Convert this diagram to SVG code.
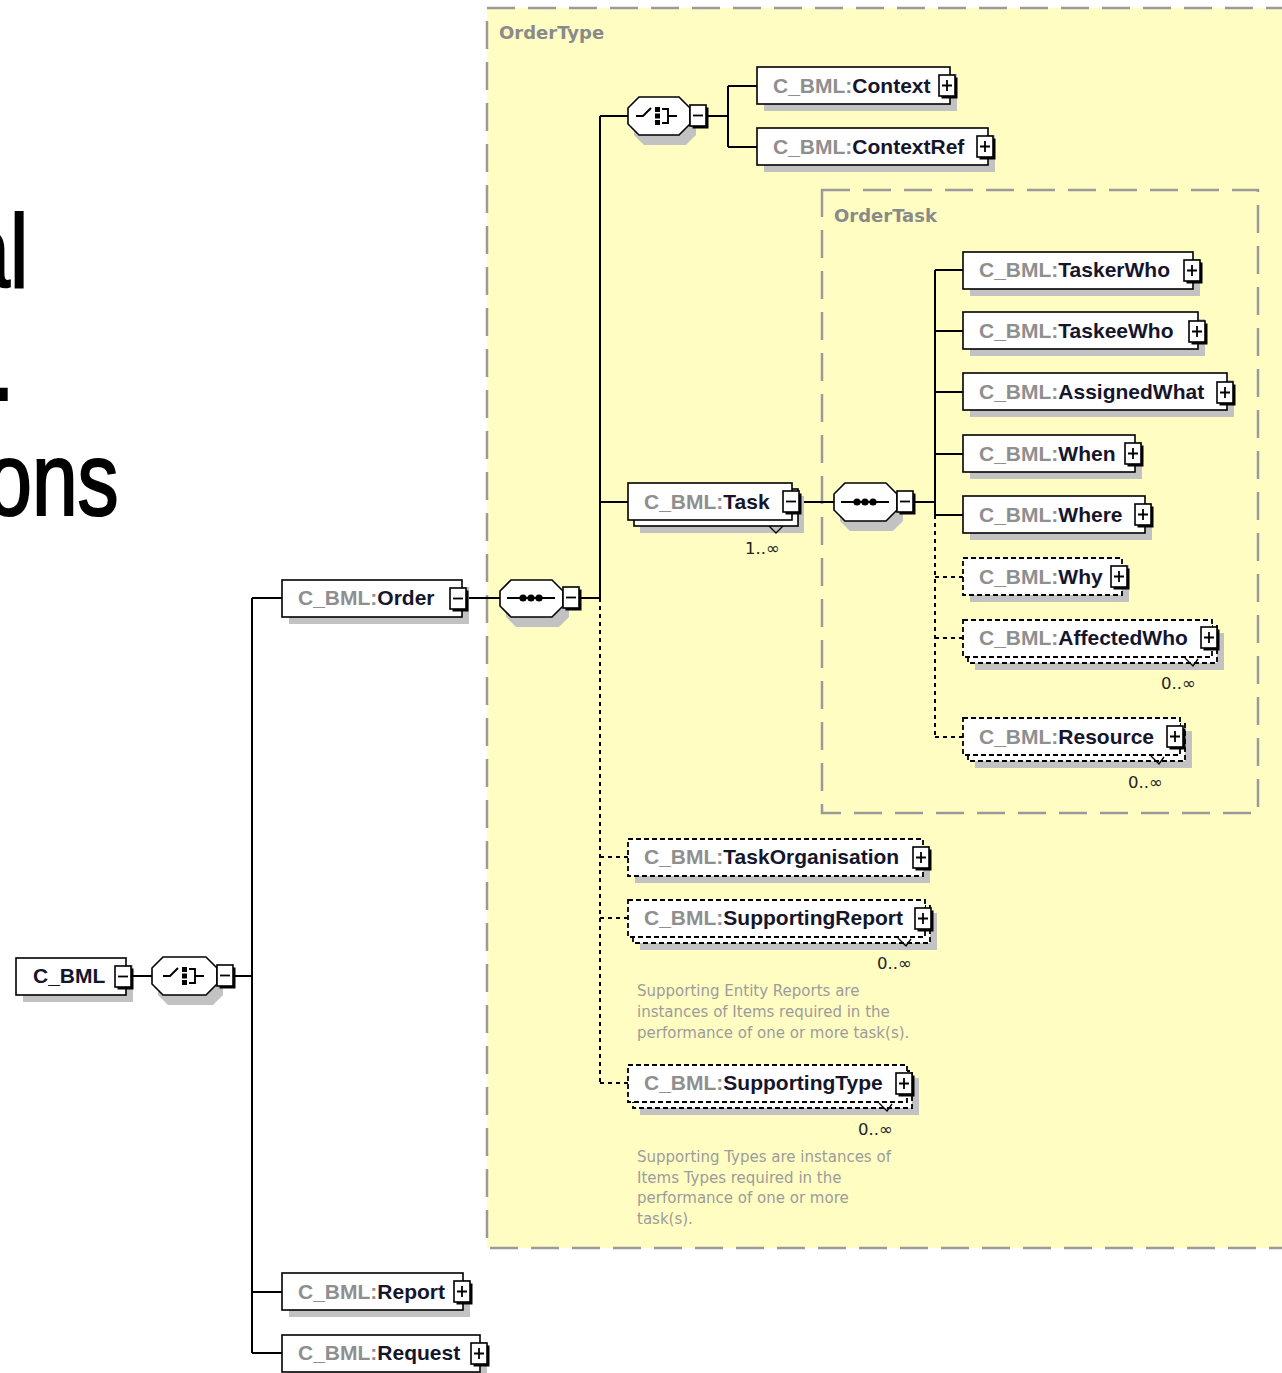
<svg xmlns="http://www.w3.org/2000/svg" xmlns:xlink="http://www.w3.org/1999/xlink" width="1282" height="1373" viewBox="0 0 1282 1373">
<style>
.big{font-family:"Liberation Sans",Arial,sans-serif;font-size:104px;fill:#000;stroke:#000;stroke-width:2.2}
.frame{fill:#fffdc2;stroke:#9a9a9a;stroke-width:2.5;stroke-dasharray:28 13}
.ttl{font-family:"DejaVu Sans",Verdana,sans-serif;font-weight:bold;font-size:18px;fill:#8a8a8a}
.sh{fill:#c2c2c2}
.nb{fill:#fff;stroke:#000;stroke-width:1.6}
.nd{fill:#fff;stroke:#000;stroke-width:1.8;stroke-dasharray:5 3}
.lb{font-family:"Liberation Sans",Arial,sans-serif;font-weight:bold;font-size:21px;fill:#15152b}
.pf{fill:#8f8f8f}
.ln{fill:none;stroke:#000;stroke-width:2}
.dl{fill:none;stroke:#000;stroke-width:2;stroke-dasharray:4 4}
.oct{fill:#fff;stroke:#000;stroke-width:1.6}
.mul{font-family:"DejaVu Sans",Verdana,sans-serif;font-size:16.5px;fill:#222}
.ann{font-family:"DejaVu Sans",Verdana,sans-serif;font-size:15px;fill:#9c9c9c}
.tk{fill:none;stroke:#000;stroke-width:1.3}
</style>
<defs>
<g id="bp"><rect x="2.5" y="2.5" width="16" height="21" fill="#000"/><rect width="16" height="21" fill="#fff" stroke="#000" stroke-width="1.6"/><path d="M3 10.5H13M8 5V16" stroke="#000" stroke-width="1.8"/></g>
<g id="bm"><rect x="2.5" y="2.5" width="16" height="21" fill="#000"/><rect width="16" height="21" fill="#fff" stroke="#000" stroke-width="1.6"/><path d="M3 10.5H13" stroke="#000" stroke-width="1.8"/></g>
<g id="seqi"><path d="M-24 0H24" stroke="#000" stroke-width="1.8"/><circle cx="-8" cy="0" r="3.6"/><circle cx="0" cy="0" r="3.6"/><circle cx="8" cy="0" r="3.6"/></g>
<g id="chi"><path d="M-22 0H-15L-7 -8M4 -7H10V7H4M10 0H19" fill="none" stroke="#000" stroke-width="1.9"/><rect x="-3" y="-9" width="5" height="5"/><rect x="-3" y="-2.5" width="5" height="5"/><rect x="-3" y="4" width="5" height="5"/></g>
</defs>

<rect width="1282" height="1373" fill="#fff"/>

<g id="bigtext">
<text class="big" transform="translate(-35.8 287) scale(0.79 1)">al</text>
<text class="big" transform="translate(-8.4 400) scale(0.79 1)">.</text>
<text class="big" transform="translate(-13.8 515) scale(0.79 1)">ons</text>
</g>

<g id="OrderType">
<rect class="frame" x="487" y="8" width="810" height="1240"/>
<text class="ttl" x="499" y="39">OrderType</text>
</g>
<g id="OrderTask">
<rect class="frame" x="822" y="190" width="436" height="623"/>
<text class="ttl" x="834" y="222">OrderTask</text>
</g>

<g id="connectors">
<path class="ln" d="M132 976H152M235 976H252M252 598V1353M252 598H282M252 1292H282M252 1353H282"/>
<path class="ln" d="M468 598H500M581 598H600M600 116V598M600 116H628M600 502H628"/>
<path class="dl" d="M600 598V1083M600 857H628M600 918H628M600 1083H628"/>
<path class="ln" d="M708 116H728M728 86V147M728 86H757M728 147H757"/>
<path class="ln" d="M800 502H834M915 502H935M935 270V515"/>
<path class="ln" d="M935 270H963M935 331H963M935 392H963M935 454H963M935 515H963"/>
<path class="dl" d="M935 515V737M935 577H963M935 638H963M935 737H963"/>
</g>

<g id="comp-root">
<polygon class="sh" points="168,967 213,967 223,977 223,995 213,1005 168,1005 158,995 158,977"/>
<polygon class="oct" points="163,957 206,957 217,968 217,984 206,995 163,995 152,984 152,968"/>
<use xlink:href="#chi" x="185" y="976"/>
<use xlink:href="#bm" x="217" y="965"/>
</g>
<g id="comp-order-seq">
<polygon class="sh" points="516,590 559,590 569,600 569,617 559,627 516,627 506,617 506,600"/>
<polygon class="oct" points="511,580 552,580 563,591 563,606 552,617 511,617 500,606 500,591"/>
<use xlink:href="#seqi" x="531" y="598"/>
<use xlink:href="#bm" x="563" y="587"/>
</g>
<g id="comp-context-choice">
<polygon class="sh" points="644,107 686,107 696,117 696,135 686,145 644,145 634,135 634,117"/>
<polygon class="oct" points="639,97 679,97 690,108 690,124 679,135 639,135 628,124 628,108"/>
<use xlink:href="#chi" x="658" y="116"/>
<use xlink:href="#bm" x="690" y="105"/>
</g>
<g id="comp-task-seq">
<polygon class="sh" points="850,493 893,493 903,503 903,521 893,531 850,531 840,521 840,503"/>
<polygon class="oct" points="845,483 886,483 897,494 897,510 886,521 845,521 834,510 834,494"/>
<use xlink:href="#seqi" x="865" y="502"/>
<use xlink:href="#bm" x="897" y="491"/>
</g>

<g id="C_BML">
<rect class="sh" x="23" y="965" width="110" height="37"/>
<rect class="nb" x="16" y="958" width="110" height="37"/>
<text class="lb" x="33" y="983">C_BML</text>
<use xlink:href="#bm" x="115" y="966"/>
</g>
<g id="Order">
<rect class="sh" x="289" y="587" width="180" height="37"/>
<rect class="nb" x="282" y="580" width="180" height="37"/>
<text class="lb" x="298" y="605"><tspan class="pf">C_BML:</tspan>Order</text>
<use xlink:href="#bm" x="450" y="588"/>
</g>
<g id="Report">
<rect class="sh" x="289" y="1280" width="181" height="37"/>
<rect class="nb" x="282" y="1273" width="181" height="37"/>
<text class="lb" x="298" y="1299"><tspan class="pf">C_BML:</tspan>Report</text>
<use xlink:href="#bp" x="454" y="1281"/>
</g>
<g id="Request">
<rect class="sh" x="289" y="1342" width="198" height="37"/>
<rect class="nb" x="282" y="1335" width="198" height="37"/>
<text class="lb" x="298" y="1360"><tspan class="pf">C_BML:</tspan>Request</text>
<use xlink:href="#bp" x="471" y="1343"/>
</g>

<g id="Context">
<rect class="sh" x="764" y="74" width="193" height="37"/>
<rect class="nb" x="757" y="67" width="193" height="37"/>
<text class="lb" x="773" y="93"><tspan class="pf">C_BML:</tspan>Context</text>
<use xlink:href="#bp" x="939" y="75"/>
</g>
<g id="ContextRef">
<rect class="sh" x="764" y="135" width="231" height="37"/>
<rect class="nb" x="757" y="128" width="231" height="37"/>
<text class="lb" x="773" y="154"><tspan class="pf">C_BML:</tspan>ContextRef</text>
<use xlink:href="#bp" x="977" y="136"/>
</g>

<g id="Task">
<rect class="sh" x="640" y="496" width="164" height="37"/>
<rect class="nb" x="634" y="489" width="164" height="37"/>
<rect class="nb" x="628" y="483" width="164" height="37"/>
<text class="lb" x="644" y="509"><tspan class="pf">C_BML:</tspan>Task</text>
<use xlink:href="#bm" x="783" y="491"/>
<path class="tk" d="M769 526L776 533L783 526"/>
<text class="mul" x="745" y="554">1..∞</text>
</g>

<g id="TaskerWho">
<rect class="sh" x="970" y="259" width="230" height="37"/>
<rect class="nb" x="963" y="252" width="230" height="37"/>
<text class="lb" x="979" y="277"><tspan class="pf">C_BML:</tspan>TaskerWho</text>
<use xlink:href="#bp" x="1184" y="260"/>
</g>
<g id="TaskeeWho">
<rect class="sh" x="970" y="319" width="235" height="37"/>
<rect class="nb" x="963" y="312" width="235" height="37"/>
<text class="lb" x="979" y="338"><tspan class="pf">C_BML:</tspan>TaskeeWho</text>
<use xlink:href="#bp" x="1189" y="321"/>
</g>
<g id="AssignedWhat">
<rect class="sh" x="970" y="380" width="264" height="37"/>
<rect class="nb" x="963" y="373" width="264" height="37"/>
<text class="lb" x="979" y="399"><tspan class="pf">C_BML:</tspan>AssignedWhat</text>
<use xlink:href="#bp" x="1217" y="382"/>
</g>
<g id="When">
<rect class="sh" x="970" y="442" width="172" height="37"/>
<rect class="nb" x="963" y="435" width="172" height="37"/>
<text class="lb" x="979" y="461"><tspan class="pf">C_BML:</tspan>When</text>
<use xlink:href="#bp" x="1125" y="443"/>
</g>
<g id="Where">
<rect class="sh" x="970" y="503" width="182" height="37"/>
<rect class="nb" x="963" y="496" width="182" height="37"/>
<text class="lb" x="979" y="522"><tspan class="pf">C_BML:</tspan>Where</text>
<use xlink:href="#bp" x="1135" y="504"/>
</g>
<g id="Why">
<rect class="sh" x="970" y="565" width="159" height="37"/>
<rect class="nd" x="963" y="558" width="159" height="37"/>
<text class="lb" x="979" y="584"><tspan class="pf">C_BML:</tspan>Why</text>
<use xlink:href="#bp" x="1111" y="566"/>
</g>
<g id="AffectedWho">
<rect class="sh" x="975" y="633" width="249" height="37"/>
<rect class="nd" x="968" y="626" width="249" height="37"/>
<rect class="nd" x="963" y="620" width="249" height="37"/>
<text class="lb" x="979" y="645"><tspan class="pf">C_BML:</tspan>AffectedWho</text>
<use xlink:href="#bp" x="1201" y="627"/>
<path class="tk" d="M1185 658L1193 666L1198 659"/>
<text class="mul" x="1161" y="689">0..∞</text>
</g>
<g id="Resource">
<rect class="sh" x="975" y="731" width="217" height="37"/>
<rect class="nd" x="968" y="724" width="217" height="37"/>
<rect class="nd" x="963" y="718" width="217" height="37"/>
<text class="lb" x="979" y="744"><tspan class="pf">C_BML:</tspan>Resource</text>
<use xlink:href="#bp" x="1167" y="726"/>
<path class="tk" d="M1151 756L1159 764L1164 757"/>
<text class="mul" x="1128" y="788">0..∞</text>
</g>

<g id="TaskOrganisation">
<rect class="sh" x="635" y="846" width="295" height="37"/>
<rect class="nd" x="628" y="839" width="295" height="37"/>
<text class="lb" x="644" y="864"><tspan class="pf">C_BML:</tspan>TaskOrganisation</text>
<use xlink:href="#bp" x="913" y="847"/>
</g>
<g id="SupportingReport">
<rect class="sh" x="640" y="913" width="297" height="37"/>
<rect class="nd" x="633" y="906" width="297" height="37"/>
<rect class="nd" x="628" y="900" width="297" height="37"/>
<text class="lb" x="644" y="925"><tspan class="pf">C_BML:</tspan>SupportingReport</text>
<use xlink:href="#bp" x="915" y="908"/>
<path class="tk" d="M898 938L906 946L911 939"/>
<text class="mul" x="877" y="969">0..∞</text>
<text class="ann" x="637" y="996">Supporting Entity Reports are</text>
<text class="ann" x="637" y="1017">instances of Items required in the</text>
<text class="ann" x="637" y="1038">performance of one or more task(s).</text>
</g>
<g id="SupportingType">
<rect class="sh" x="640" y="1078" width="279" height="37"/>
<rect class="nd" x="633" y="1071" width="279" height="37"/>
<rect class="nd" x="628" y="1065" width="279" height="37"/>
<text class="lb" x="644" y="1090"><tspan class="pf">C_BML:</tspan>SupportingType</text>
<use xlink:href="#bp" x="896" y="1073"/>
<path class="tk" d="M879 1103L887 1111L892 1104"/>
<text class="mul" x="858" y="1135">0..∞</text>
<text class="ann" x="637" y="1162">Supporting Types are instances of</text>
<text class="ann" x="637" y="1183">Items Types required in the</text>
<text class="ann" x="637" y="1203">performance of one or more</text>
<text class="ann" x="637" y="1224">task(s).</text>
</g>
</svg>
